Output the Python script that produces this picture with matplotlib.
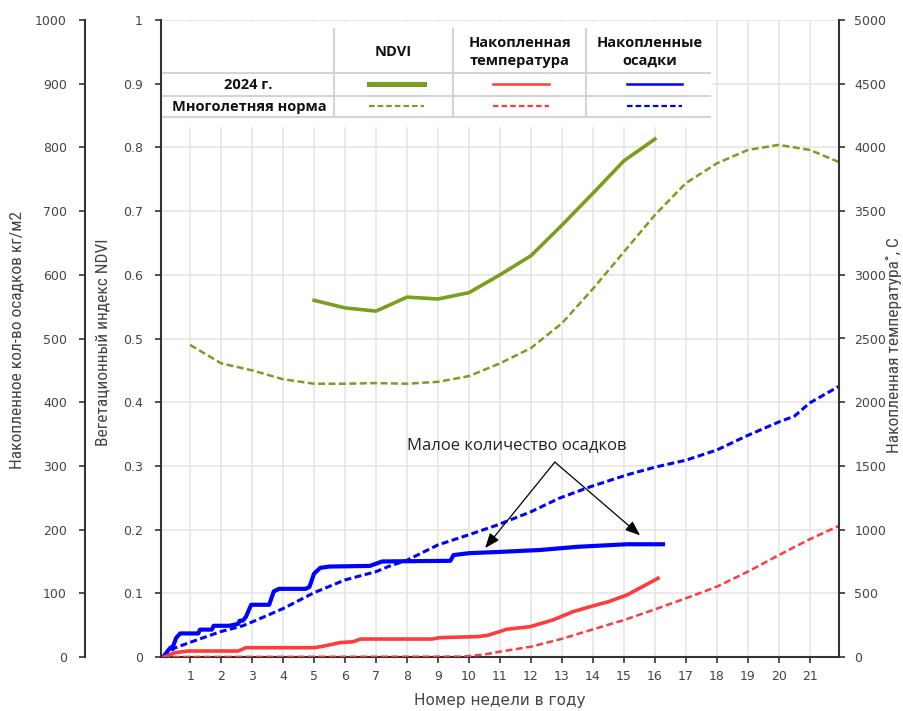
import matplotlib
matplotlib.use("Agg")
import matplotlib.pyplot as plt
from matplotlib import font_manager
from matplotlib.lines import Line2D
from matplotlib.patches import Rectangle

# --- data (x = week number) ---
ndvi_weeks = [5, 6, 7, 8, 9, 10, 11, 12, 13, 14, 15, 16]
ndvi_2024 = [0.560, 0.548, 0.543, 0.565, 0.562, 0.572, 0.600, 0.630, 0.678, 0.728, 0.779, 0.813]

ndvi_norm_weeks = [1, 2, 3, 4, 5, 6, 7, 8, 9, 10, 11, 12, 13, 14, 15, 16, 17, 18, 19, 20, 21, 21.94]
ndvi_norm = [0.490, 0.461, 0.450, 0.436, 0.429, 0.429, 0.430, 0.429, 0.432, 0.441, 0.461, 0.485,
             0.524, 0.578, 0.636, 0.694, 0.744, 0.775, 0.796, 0.804, 0.796, 0.777]

temp_weeks = [0.16, 0.52, 0.94, 2.55, 2.8, 5.0, 5.3, 5.84, 6.27, 6.5, 8.8, 9.06, 10.3, 10.6, 11.0,
              11.2, 11.97, 12.7, 13.36, 14.1, 14.5, 15.1, 16.1]
temp_2024 = [0, 34, 47, 47, 73, 73, 85, 113, 120, 141, 141, 152, 160, 170, 200,
             217, 238, 290, 356, 408, 434, 487, 618]

temp_norm_weeks = [0.1, 9.8, 10.5, 11, 12, 13, 14, 15, 16, 17, 18, 19, 20, 21, 21.94]
temp_norm = [0, 3, 20, 42, 81, 143, 217, 290, 374, 461, 552, 670, 800, 925, 1030]

prec_weeks = [0.13, 0.35, 0.45, 0.55, 0.68, 1.26, 1.32, 1.7, 1.76, 2.26, 2.55, 2.6, 2.7, 2.8, 2.97,
              3.55, 3.7, 3.87, 4.73, 4.85, 5.0, 5.2, 5.5, 6.8, 7.2, 9.4, 9.5, 10.0, 11.0, 12.3,
              13.5, 15.1, 16.26]
prec_2024 = [0, 14, 17, 30, 37, 37, 43, 43, 49, 49, 52, 57, 57, 63, 82,
             82, 103, 107, 107, 110, 131, 140, 142, 143, 150, 151, 160, 163, 165, 168,
             173, 177, 177]

prec_norm_weeks = [0.13, 0.5, 0.94, 2.0, 2.7, 3.0, 4.0, 5.0, 5.3, 6.0, 7.0, 7.4, 8.0, 9.0, 10.0,
                   10.9, 12.0, 12.9, 13.9, 15.1, 16.0, 17.0, 18.0, 19.0, 20.0, 20.5, 21.0, 21.94]
prec_norm = [0, 14, 22, 40, 49, 55, 76, 101, 107, 121, 134, 142, 152, 176, 192,
             207, 228, 249, 267, 286, 298, 309, 325, 348, 369, 378, 399, 425]

week_ticks = list(range(1, 22))

GREEN = "#7a9e1e"
RED = "#ff3c3c"
BLUE = "#0000ff"
GRID = "#e6e6e6"
TXT = "#444444"
SPINE = "#333333"

W, H = 904, 711


def pick(*names):
    have = {f.name for f in font_manager.fontManager.ttflist}
    for n in names:
        if n in have:
            return n
    return "DejaVu Sans"


narrow = pick("Liberation Sans Narrow", "Roboto Condensed", "Liberation Sans")
calib = pick("Open Sans", "Lato", "Noto Sans")

plt.rcParams["lines.scale_dashes"] = False
plt.rcParams["font.family"] = ["DejaVu Sans"]

fig = plt.figure(figsize=(W / 100, H / 100), dpi=100)


def fx(px):
    return px / W


def fy(py):
    return 1 - py / H


ax = fig.add_axes([fx(161), fy(657), (839 - 161) / W, (657 - 20) / H])
ax_p = ax.twinx()
ax_t = ax.twinx()

# NDVI (main axis)
ax.plot(ndvi_norm_weeks, ndvi_norm, color=GREEN, lw=1.8, dashes=(5, 2.5), zorder=3)
ax.plot(ndvi_weeks, ndvi_2024, color=GREEN, lw=2.6, zorder=4)

# precipitation
ax_p.plot(prec_norm_weeks, prec_norm, color=BLUE, lw=2.2, dashes=(5, 2.5))
ax_p.plot(prec_weeks, prec_2024, color=BLUE, lw=3.0)

# temperature
ax_t.plot(temp_norm_weeks, temp_norm, color=RED, lw=1.8, dashes=(5, 2.5))
ax_t.plot(temp_weeks, temp_2024, color=RED, lw=2.6)

ax.set_xlim(0.06, 21.94)
ax.set_ylim(0, 1)
ax_p.set_ylim(0, 1000)
ax_t.set_ylim(0, 5000)

ax.set_xticks(week_ticks)
ax.set_yticks([i / 10 for i in range(11)])
ax.set_yticklabels(["0"] + ["0.%d" % i for i in range(1, 10)] + ["1"])
ax_p.set_yticks(range(0, 1001, 100))
ax_t.set_yticks(range(0, 5001, 500))

ax.grid(True, color=GRID, lw=1.2)
ax.set_axisbelow(True)

for a in (ax, ax_p, ax_t):
    for s in a.spines.values():
        s.set_visible(False)
    a.tick_params(colors=SPINE, labelcolor=TXT, labelsize=9, length=4, width=1.2)

ax.spines["left"].set_visible(True)
ax.spines["bottom"].set_visible(True)
ax.spines["left"].set_color(SPINE)
ax.spines["bottom"].set_color(SPINE)
ax.spines["left"].set_linewidth(1.5)
ax.spines["bottom"].set_linewidth(1.5)
ax.tick_params(axis="y", pad=9)
ax.tick_params(axis="x", pad=5)

ax_p.yaxis.set_ticks_position("left")
ax_p.spines["left"].set_visible(True)
ax_p.spines["left"].set_position(("axes", -0.112))
ax_p.spines["left"].set_color(SPINE)
ax_p.spines["left"].set_linewidth(1.5)
ax_p.tick_params(axis="y", pad=9)

ax_t.spines["right"].set_visible(True)
ax_t.spines["right"].set_color(SPINE)
ax_t.spines["right"].set_linewidth(1.5)
ax_t.tick_params(axis="y", pad=7)

# axis titles
lab = dict(rotation=90, ha="center", va="center", color=TXT, family=[narrow, "DejaVu Sans"])
fig.text(fx(17), fy(340), "Накопленное кол-во осадков кг/м2", fontsize=12.5, **lab)
fig.text(fx(103), fy(342), "Вегетационный индекс NDVI", fontsize=12.5, **lab)
fig.text(fx(894), fy(345), "Накопленная температура˚, С", fontsize=12.5, **lab)
fig.text(fx(500), fy(700), "Номер недели в году", ha="center", va="center",
         fontsize=11, color=TXT)

# annotation
ax_p.text(11.55, 333, "Малое количество осадков", ha="center", va="center",
          fontsize=12, color="#222222", family=[calib, "DejaVu Sans"])
for tip in [(10.52, 171), (15.52, 191)]:
    ax_p.annotate("", xy=tip, xytext=(12.77, 306),
                  arrowprops=dict(arrowstyle="-|>,head_length=0.9,head_width=0.35",
                                  color="black", lw=0.9, shrinkA=0, shrinkB=0))

# legend table drawn over the plot
tb = fig.transFigure
fig.patches.append(Rectangle((fx(163), fy(127)), fx(712) - fx(163), fy(22) - fy(127),
                             transform=tb, facecolor="white", edgecolor="none", zorder=5))
LINE = "#d4d4d4"
for yy in (73, 96, 117):
    fig.lines.append(Line2D([fx(163), fx(710)], [fy(yy), fy(yy)], transform=tb,
                            color=LINE, lw=1.5, zorder=6))
for xx in (334, 453, 586):
    fig.lines.append(Line2D([fx(xx), fx(xx)], [fy(29), fy(117)], transform=tb,
                            color=LINE, lw=1.5, zorder=6))

tkw = dict(ha="center", va="center", fontsize=10.5, color="#111111",
           family=[calib, "DejaVu Sans"], zorder=7, fontweight="bold")
fig.text(fx(393), fy(52), "NDVI", **tkw)
fig.text(fx(520), fy(52), "Накопленная\nтемпература", linespacing=1.35, **tkw)
fig.text(fx(650), fy(52), "Накопленные\nосадки", linespacing=1.35, **tkw)
fig.text(fx(248), fy(85), "2024 г.", **tkw)
fig.text(fx(249), fy(107), "Многолетняя норма", **tkw)

samples = [(369, 424, GREEN, 3.6), (493, 549, RED, 1.8), (627, 682, BLUE, 1.8)]
for x0, x1, c, lw in samples:
    fig.lines.append(Line2D([fx(x0), fx(x1)], [fy(84), fy(84)], transform=tb,
                            color=c, lw=lw, zorder=7))
    fig.lines.append(Line2D([fx(x0), fx(x1)], [fy(106), fy(106)], transform=tb,
                            color=c, lw=1.6, dashes=(4, 2.2), zorder=7))

fig.savefig("out.png", dpi=100)
